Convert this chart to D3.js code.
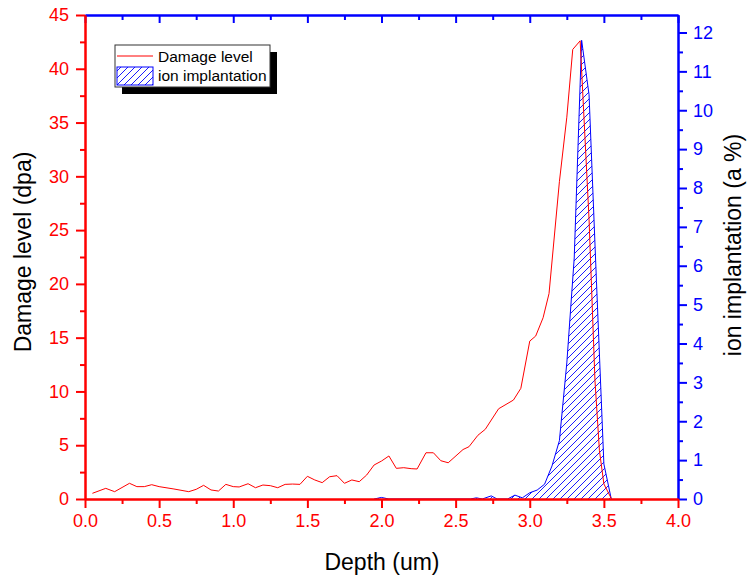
<!DOCTYPE html>
<html>
<head>
<meta charset="utf-8">
<script src="https://cdn.jsdelivr.net/npm/d3@7"></script>
<style>
body { margin: 0; background: #fff; }
text { font-family: "Liberation Sans", Arial, sans-serif; }
</style>
</head>
<body>
<svg id="chart" width="748" height="575"></svg>
<script>
// damage level (dpa), left axis
const damageDepth = [0.05, 0.14, 0.20, 0.30, 0.35, 0.40, 0.45, 0.50, 0.60, 0.70, 0.75, 0.80, 0.85, 0.90, 0.95,
    1.00, 1.04, 1.10, 1.15, 1.20, 1.25, 1.30, 1.35, 1.40, 1.45, 1.50, 1.55, 1.60, 1.65, 1.70, 1.75, 1.80, 1.85,
    1.90, 1.95, 2.00, 2.05, 2.10, 2.15, 2.20, 2.24, 2.30, 2.35, 2.40, 2.45, 2.55, 2.59, 2.65, 2.70, 2.79, 2.89,
    2.94, 3.00, 3.04, 3.09, 3.13, 3.20, 3.25, 3.29, 3.34, 3.40, 3.44, 3.47, 3.50, 3.55];
const damageLevel = [0.53, 0.99, 0.68, 1.46, 1.15, 1.15, 1.33, 1.15, 0.93, 0.68, 0.90, 1.27, 0.84, 0.74, 1.36,
    1.15, 1.12, 1.42, 1.05, 1.30, 1.24, 1.05, 1.36, 1.39, 1.36, 2.11, 1.77, 1.52, 2.07, 2.17, 1.46, 1.77, 1.61,
    2.23, 3.16, 3.53, 4.00, 2.85, 2.91, 2.82, 2.79, 4.30, 4.30, 3.56, 3.37, 4.60, 4.86, 5.92, 6.48, 8.39, 9.20,
    10.29, 14.68, 15.15, 16.85, 19.1, 29.5, 35.5, 41.8, 42.6, 26.0, 11.0, 4.5, 1.4, 0.05];

// ion implantation (a %), right axis
const ionDepth = [1.95, 2.00, 2.05, 2.60, 2.64, 2.68, 2.74, 2.78, 2.85, 2.90, 2.95, 3.00, 3.05, 3.10, 3.15,
    3.20, 3.25, 3.30, 3.35, 3.40, 3.45, 3.50, 3.55];
const ionLevel = [0, 0.04, 0, 0, 0.03, 0, 0.08, 0, 0, 0.10, 0.03, 0.16, 0.23, 0.38, 0.85,
    1.5, 3.5, 6.2, 11.8, 10.4, 5.6, 0.9, 0];

const xTicks = [0, 0.5, 1.0, 1.5, 2.0, 2.5, 3.0, 3.5, 4.0];
const xMinor = [0.25, 0.75, 1.25, 1.75, 2.25, 2.75, 3.25, 3.75];
const leftTicks = [0, 5, 10, 15, 20, 25, 30, 35, 40, 45];
const leftMinor = [2.5, 7.5, 12.5, 17.5, 22.5, 27.5, 32.5, 37.5, 42.5];
const rightTicks = [0, 1, 2, 3, 4, 5, 6, 7, 8, 9, 10, 11, 12];
const rightMinor = [0.5, 1.5, 2.5, 3.5, 4.5, 5.5, 6.5, 7.5, 8.5, 9.5, 10.5, 11.5];

const red = "#ff0000", blue = "#0000ff";
const margin = {top: 15, right: 70, bottom: 76, left: 85},
    width = 748 - margin.left - margin.right,
    height = 575 - margin.top - margin.bottom;

const svg = d3.select("#chart");
const chart = svg.append("g").attr("transform", `translate(${margin.left},${margin.top})`);

const x = d3.scaleLinear().domain([0, 4]).range([0, width]);
const yL = d3.scaleLinear().domain([0, 45]).range([height, 0]);
const yR = d3.scaleLinear().domain([0, 12.45]).range([height, 0]);

// hatch pattern
const pat = svg.append("defs").append("pattern")
    .attr("id", "hatch")
    .attr("patternUnits", "userSpaceOnUse")
    .attr("width", 7).attr("height", 7);
pat.append("path")
    .attr("d", "M-1,1 l2,-2 M0,7 l7,-7 M6,8 l2,-2")
    .attr("stroke", blue).attr("stroke-width", 0.9);

const ion = ionDepth.map((d, i) => [d, ionLevel[i]]);
const damage = damageDepth.map((d, i) => [d, damageLevel[i]]);

chart.append("path")
    .datum(ion)
    .attr("fill", "url(#hatch)")
    .attr("d", d3.area().x(d => x(d[0])).y0(yR(0)).y1(d => yR(d[1])));
chart.append("path")
    .datum(ion)
    .attr("fill", "none")
    .attr("stroke", blue)
    .attr("stroke-width", 1)
    .attr("d", d3.line().x(d => x(d[0])).y(d => yR(d[1])));

chart.append("path")
    .datum(damage)
    .attr("fill", "none")
    .attr("stroke", red)
    .attr("stroke-width", 1)
    .attr("d", d3.line().x(d => x(d[0])).y(d => yL(d[1])));

// axes
const styleAxis = (g, color) => {
    g.select(".domain").attr("stroke", color).attr("stroke-width", 2);
    g.selectAll(".tick line").attr("stroke", color).attr("stroke-width", 2);
    g.selectAll(".tick text").attr("fill", color)
        .style("font-size", "18px")
        .style("font-family", '"Liberation Sans", Arial, sans-serif');
};

// top (blue, inward ticks)
chart.append("g")
    .call(d3.axisBottom(x).tickValues(xMinor).tickSize(5).tickFormat("").tickSizeOuter(0))
    .call(g => styleAxis(g, blue));
chart.append("g")
    .call(d3.axisBottom(x).tickValues(xTicks).tickSize(8).tickFormat("").tickSizeOuter(0))
    .call(g => styleAxis(g, blue));

// right (blue)
chart.append("g")
    .attr("transform", `translate(${width},0)`)
    .call(d3.axisRight(yR).tickValues(rightMinor).tickSize(5).tickFormat("").tickSizeOuter(0))
    .call(g => styleAxis(g, blue));
chart.append("g")
    .attr("transform", `translate(${width},0)`)
    .call(d3.axisRight(yR).tickValues(rightTicks).tickSize(9).tickPadding(6).tickFormat(d3.format("d")).tickSizeOuter(0))
    .call(g => styleAxis(g, blue));

// left (red)
chart.append("g")
    .call(d3.axisLeft(yL).tickValues(leftMinor).tickSize(5).tickFormat("").tickSizeOuter(0))
    .call(g => styleAxis(g, red));
chart.append("g")
    .call(d3.axisLeft(yL).tickValues(leftTicks).tickSize(9).tickPadding(7).tickFormat(d3.format("d")).tickSizeOuter(0))
    .call(g => styleAxis(g, red));

// bottom (red)
chart.append("g")
    .attr("transform", `translate(0,${height})`)
    .call(d3.axisBottom(x).tickValues(xMinor).tickSize(5).tickFormat("").tickSizeOuter(0))
    .call(g => styleAxis(g, red));
chart.append("g")
    .attr("transform", `translate(0,${height})`)
    .call(d3.axisBottom(x).tickValues(xTicks).tickSize(9).tickPadding(6).tickFormat(d3.format(".1f")).tickSizeOuter(0))
    .call(g => styleAxis(g, red));

// axis titles
svg.append("text")
    .attr("transform", "translate(31,252) rotate(-90)")
    .attr("text-anchor", "middle")
    .style("font-size", "23px")
    .text("Damage level (dpa)");
svg.append("text")
    .attr("transform", "translate(741,245) rotate(-90)")
    .attr("text-anchor", "middle")
    .style("font-size", "23px")
    .text("ion implantation (a %)");
svg.append("text")
    .attr("x", 382).attr("y", 570)
    .attr("text-anchor", "middle")
    .style("font-size", "23px")
    .text("Depth (um)");

// legend
const legend = svg.append("g").attr("transform", "translate(115,45)");
legend.append("rect")
    .attr("x", 7).attr("y", 7).attr("width", 155).attr("height", 42)
    .attr("fill", "#000");
legend.append("rect")
    .attr("width", 155).attr("height", 42)
    .attr("fill", "#fff").attr("stroke", "#333").attr("stroke-width", 1);
legend.append("line")
    .attr("x1", 2).attr("x2", 38).attr("y1", 11).attr("y2", 11)
    .attr("stroke", red).attr("stroke-width", 1);
legend.append("rect")
    .attr("x", 2).attr("y", 22).attr("width", 36).attr("height", 18)
    .attr("fill", "url(#hatch)").attr("stroke", blue).attr("stroke-width", 1);
legend.append("text")
    .attr("x", 43).attr("y", 17)
    .style("font-size", "15.5px")
    .text("Damage level");
legend.append("text")
    .attr("x", 43).attr("y", 36)
    .style("font-size", "15.5px")
    .text("ion implantation");
</script>
</body>
</html>
